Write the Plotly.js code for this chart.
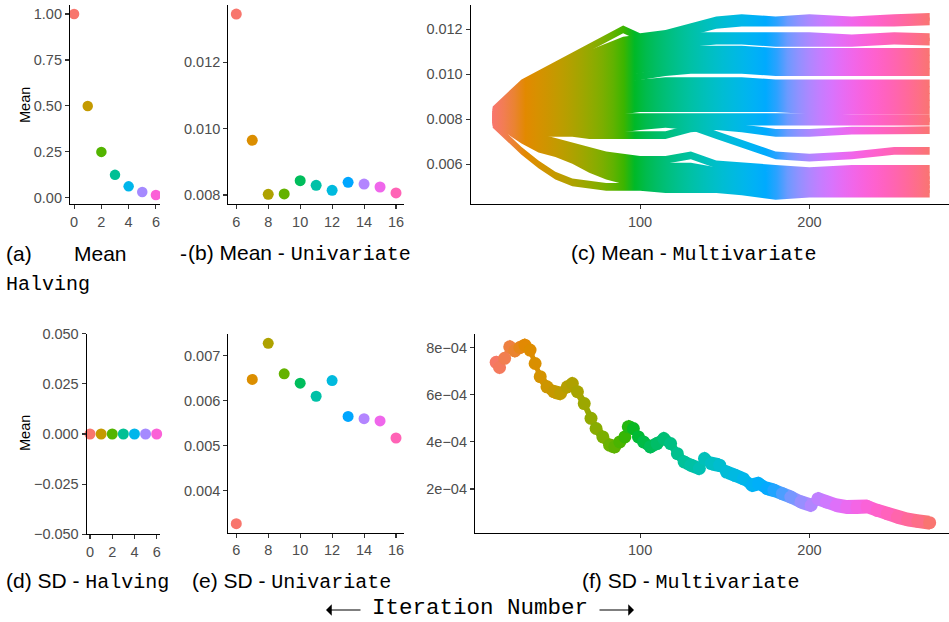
<!DOCTYPE html>
<html>
<head>
<meta charset="utf-8">
<script src="https://cdn.plot.ly/plotly-3.0.1.min.js"></script>
<style>html,body{margin:0;padding:0;background:#fff;}#chart{width:949px;height:622px;}</style>
</head>
<body>
<div id="chart"></div>
<script>
// ---------------- DATA ----------------
// (a) Mean - Halving
const halvIter = [0, 1, 2, 3, 4, 5, 6];
const halvMean = [1.0, 0.5, 0.25, 0.125, 0.0625, 0.03125, 0.015625];
// (d) SD - Halving
const halvSD = [0, 0, 0, 0, 0, 0, 0];

// (b) Mean - Univariate
const uniIter = [6, 7, 8, 9, 10, 11, 12, 13, 14, 15, 16];
const uniMean = [0.01346, 0.00965, 0.00802, 0.00803, 0.00843, 0.00829, 0.00814, 0.00838, 0.00833, 0.00824, 0.00806];
// (e) SD - Univariate
const uniSD = [0.00326, 0.006475, 0.00728, 0.00660, 0.00639, 0.00610, 0.00645, 0.00565, 0.00560, 0.00555, 0.00517];

// (c) Mean - Multivariate : running means of each dimension, sampled at these iterations
const multiIter = [13, 20, 30, 40, 50, 60, 70, 80, 90, 100, 115, 130, 145, 160, 180, 200, 225, 250, 271];
const traj01 = [0.0084, 0.0089, 0.0096, 0.0100, 0.0104, 0.0108, 0.0112, 0.0116, 0.0120, 0.01165, 0.0118, 0.0121, 0.0124, 0.0125, 0.0124, 0.0125, 0.0124, 0.0125, 0.01255];
const traj02 = [0.00835, 0.0088, 0.0094, 0.0098, 0.0102, 0.0106, 0.0109, 0.0112, 0.0115, 0.0116, 0.0117, 0.0119, 0.0122, 0.0123, 0.0123, 0.0123, 0.0123, 0.0123, 0.01235];
const traj03 = [0.0083, 0.0087, 0.0092, 0.0096, 0.0100, 0.0103, 0.0106, 0.0109, 0.0112, 0.0114, 0.0115, 0.0117, 0.0117, 0.0117, 0.0117, 0.0117, 0.0116, 0.0117, 0.01165];
const traj04 = [0.0083, 0.0086, 0.0091, 0.0094, 0.0098, 0.0101, 0.0104, 0.0107, 0.0109, 0.0111, 0.0113, 0.0114, 0.0115, 0.0115, 0.0114, 0.0114, 0.0114, 0.0115, 0.01145];
const traj05 = [0.0082, 0.0086, 0.0090, 0.0093, 0.0096, 0.0099, 0.0101, 0.0104, 0.0106, 0.0108, 0.0110, 0.0111, 0.0111, 0.0111, 0.0110, 0.0110, 0.0110, 0.0110, 0.0110];
const traj06 = [0.0082, 0.0085, 0.0089, 0.0092, 0.0094, 0.0097, 0.0099, 0.0101, 0.0103, 0.0105, 0.0107, 0.0108, 0.0108, 0.0108, 0.0107, 0.0107, 0.0107, 0.0107, 0.0107];
const traj07 = [0.0082, 0.0085, 0.0088, 0.0090, 0.0093, 0.0095, 0.0097, 0.0099, 0.0101, 0.0102, 0.0104, 0.0105, 0.0105, 0.0105, 0.0104, 0.0104, 0.0104, 0.0104, 0.0104];
const traj08 = [0.0082, 0.0084, 0.0087, 0.0089, 0.0091, 0.0093, 0.0095, 0.0096, 0.0098, 0.0099, 0.0101, 0.0102, 0.0102, 0.0102, 0.0101, 0.0101, 0.0101, 0.0101, 0.0101];
const traj09 = [0.0081, 0.0084, 0.0086, 0.0088, 0.0089, 0.0091, 0.0092, 0.0094, 0.0095, 0.0096, 0.0097, 0.0097, 0.0097, 0.0097, 0.0096, 0.0096, 0.0096, 0.0096, 0.0096];
const traj10 = [0.0081, 0.0083, 0.0085, 0.0086, 0.0087, 0.0089, 0.0090, 0.0091, 0.0092, 0.0093, 0.0094, 0.0094, 0.0094, 0.0094, 0.0093, 0.0093, 0.0093, 0.0093, 0.0093];
const traj11 = [0.0081, 0.0082, 0.0084, 0.0085, 0.0086, 0.0087, 0.0088, 0.0089, 0.0089, 0.0090, 0.0091, 0.0091, 0.0091, 0.0091, 0.0091, 0.0090, 0.0090, 0.0090, 0.0090];
const traj12 = [0.0081, 0.0082, 0.0083, 0.0083, 0.0084, 0.0085, 0.0086, 0.0086, 0.0087, 0.0088, 0.0088, 0.0088, 0.0088, 0.0088, 0.0088, 0.0087, 0.0087, 0.0087, 0.0087];
const traj13 = [0.0080, 0.0081, 0.0082, 0.0082, 0.0083, 0.0083, 0.0084, 0.0084, 0.0084, 0.0085, 0.0085, 0.0085, 0.0085, 0.0085, 0.0085, 0.0084, 0.0084, 0.0084, 0.0084];
const traj14 = [0.0080, 0.0080, 0.0080, 0.0080, 0.0080, 0.0081, 0.0081, 0.0081, 0.0081, 0.0081, 0.0081, 0.0081, 0.0081, 0.0081, 0.0081, 0.0081, 0.00805, 0.00805, 0.00805];
const traj15 = [0.0080, 0.0079, 0.0079, 0.0078, 0.0078, 0.0078, 0.0078, 0.0078, 0.0078, 0.0079, 0.0079, 0.0079, 0.0079, 0.0079, 0.0079, 0.0079, 0.0079, 0.0079, 0.0079];
const traj16 = [0.0079, 0.0077, 0.0075, 0.0074, 0.0074, 0.0074, 0.0073, 0.0073, 0.0073, 0.0073, 0.0073, 0.0076, 0.0077, 0.0076, 0.0074, 0.0074, 0.0075, 0.0075, 0.00752];
const traj17 = [0.0080, 0.0079, 0.0078, 0.0077, 0.0077, 0.0076, 0.0076, 0.0076, 0.0076, 0.0077, 0.0078, 0.0077, 0.0073, 0.0069, 0.0064, 0.0063, 0.0064, 0.0066, 0.0066];
const traj18 = [0.0080, 0.0078, 0.0075, 0.0072, 0.0070, 0.0068, 0.0066, 0.0064, 0.0063, 0.0062, 0.0062, 0.0064, 0.0060, 0.0059, 0.0058, 0.0057, 0.0058, 0.0058, 0.0058];
const traj19 = [0.0080, 0.0078, 0.0074, 0.0071, 0.0069, 0.0067, 0.0064, 0.0062, 0.0061, 0.0060, 0.0059, 0.0059, 0.0057, 0.0056, 0.0055, 0.0055, 0.0055, 0.0055, 0.0055];
const traj20 = [0.0080, 0.0078, 0.0074, 0.0070, 0.0068, 0.0066, 0.0063, 0.0060, 0.0058, 0.0057, 0.0056, 0.0056, 0.0055, 0.0054, 0.0053, 0.0053, 0.0053, 0.0053, 0.0053];
const traj21 = [0.0079, 0.0077, 0.0072, 0.0069, 0.0066, 0.0064, 0.0061, 0.0058, 0.0056, 0.0054, 0.0054, 0.0053, 0.0052, 0.0052, 0.0051, 0.0051, 0.0051, 0.0051, 0.0051];
const traj22 = [0.0079, 0.0076, 0.0071, 0.0067, 0.0065, 0.0062, 0.0058, 0.0055, 0.0053, 0.0052, 0.0051, 0.0051, 0.0050, 0.0050, 0.0049, 0.0049, 0.0049, 0.0049, 0.0049];
const traj23 = [0.0078, 0.0073, 0.0066, 0.0060, 0.0055, 0.0052, 0.0051, 0.0050, 0.0050, 0.0050, 0.0049, 0.0049, 0.0049, 0.0048, 0.0046, 0.0047, 0.0047, 0.0047, 0.0047];
const multiTrajs = [traj01, traj02, traj03, traj04, traj05, traj06, traj07, traj08, traj09, traj10, traj11, traj12,
                    traj13, traj14, traj15, traj16, traj17, traj18, traj19, traj20, traj21, traj22, traj23];

// (f) SD - Multivariate
const sdIter = [15, 17, 20, 23, 26, 29, 32, 35, 38, 41, 45, 49, 53, 57, 60, 63, 67, 71, 74, 78,
                82, 85, 88, 91, 93, 96, 99, 102, 106, 110, 114, 118, 122, 126, 130, 135, 138, 142, 147, 151,
                156, 161, 166, 170, 175, 179, 184, 189, 195, 201, 205, 210, 216, 222, 228, 234, 240, 246, 252, 258,
                264, 271];
const sdMulti = [7.38e-4, 7.16e-4, 7.55e-4, 8.04e-4, 7.87e-4, 8.01e-4, 8.11e-4, 7.90e-4, 7.33e-4, 6.77e-4,
                 6.34e-4, 6.13e-4, 6.06e-4, 6.34e-4, 6.48e-4, 6.13e-4, 5.63e-4, 5.00e-4, 4.57e-4, 4.21e-4,
                 3.86e-4, 3.79e-4, 4.00e-4, 4.21e-4, 4.64e-4, 4.57e-4, 4.21e-4, 4.00e-4, 3.79e-4, 3.93e-4,
                 4.14e-4, 3.93e-4, 3.50e-4, 3.15e-4, 3.01e-4, 2.87e-4, 3.29e-4, 3.08e-4, 3.01e-4, 2.72e-4,
                 2.58e-4, 2.44e-4, 2.16e-4, 2.23e-4, 2.02e-4, 1.95e-4, 1.80e-4, 1.66e-4, 1.45e-4, 1.31e-4,
                 1.59e-4, 1.45e-4, 1.31e-4, 1.24e-4, 1.24e-4, 1.26e-4, 1.09e-4, 0.95e-4, 0.81e-4, 0.70e-4,
                 0.63e-4, 0.57e-4];

const sdTickVals = [2e-4, 4e-4, 6e-4, 8e-4];
const sdTickText = ['2e\u221204', '4e\u221204', '6e\u221204', '8e\u221204'];

// ---------------- STYLE HELPERS ----------------
function hcl(h, c, l) {
  const hr = h * Math.PI / 180;
  const U = c * Math.cos(hr), V = c * Math.sin(hr);
  const Xn = 95.047, Yn = 100, Zn = 108.883;
  const den = Xn + 15 * Yn + 3 * Zn;
  const un = 4 * Xn / den, vn = 9 * Yn / den;
  const Y = Yn * (l > 8 ? Math.pow((l + 16) / 116, 3) : l / 903.3);
  const u = U / (13 * l) + un, v = V / (13 * l) + vn;
  const X = 9 * Y * u / (4 * v);
  const Z = Y * (12 - 3 * u - 20 * v) / (4 * v);
  const lin = [
    (3.240479 * X - 1.537150 * Y - 0.498535 * Z) / 100,
    (-0.969256 * X + 1.875992 * Y + 0.041556 * Z) / 100,
    (0.055648 * X - 0.204043 * Y + 1.057311 * Z) / 100];
  const g = lin.map(t => {
    let s = t <= 0.0031308 ? 12.92 * t : 1.055 * Math.pow(t, 1 / 2.4) - 0.055;
    s = Math.max(0, Math.min(1, s));
    return Math.round(s * 255);
  });
  return '#' + g.map(n => n.toString(16).padStart(2, '0')).join('');
}
function huePal(n) {
  const out = [];
  for (let i = 0; i < n; i++) out.push(hcl(15 + 360 * i / n, 100, 65));
  return out;
}
const hueScale = [];
for (let k = 0; k <= 40; k++) hueScale.push([k / 40, hcl(15 + 358.6 * k / 40, 100, 65)]);

const W = 949, H = 622;
const px = v => v / W;
const py = v => 1 - v / H;

const tickFont = {family: 'Liberation Sans, Arial, sans-serif', size: 14.5, color: '#4D4D4D'};
function ax(domain, range, extra) {
  return Object.assign({
    domain: domain, range: range, showgrid: false, zeroline: false,
    showline: true, linecolor: '#000000', linewidth: 1.1,
    ticks: 'outside', ticklen: 4, tickwidth: 1.1, tickcolor: '#333333',
    tickfont: tickFont, fixedrange: true
  }, extra || {});
}

// ---------------- TRACES ----------------
const traces = [];
traces.push({type: 'scatter', mode: 'markers', x: halvIter, y: halvMean, xaxis: 'x', yaxis: 'y',
  marker: {size: 10.5, color: huePal(7)}, hoverinfo: 'skip'});
traces.push({type: 'scatter', mode: 'markers', x: uniIter, y: uniMean, xaxis: 'x2', yaxis: 'y2',
  marker: {size: 11, color: huePal(11)}, hoverinfo: 'skip'});

const cYRange = [0.004236, 0.01308];
const cHalf = 3.9 * (cYRange[1] - cYRange[0]) / 199;
multiTrajs.forEach(tr => {
  const up = tr.map(v => v + cHalf);
  const lo = tr.map(v => v - cHalf).reverse();
  traces.push({type: 'scatter', mode: 'lines', xaxis: 'x3', yaxis: 'y3',
    x: multiIter.concat(multiIter.slice().reverse()), y: up.concat(lo),
    fill: 'toself', line: {width: 0, color: 'rgba(0,0,0,0)'},
    fillgradient: {type: 'horizontal', colorscale: hueScale, start: multiIter[0], stop: multiIter[multiIter.length - 1]},
    hoverinfo: 'skip'});
});

traces.push({type: 'scatter', mode: 'markers', x: halvIter, y: halvSD, xaxis: 'x4', yaxis: 'y4',
  marker: {size: 11, color: huePal(7)}, hoverinfo: 'skip', cliponaxis: false});
traces.push({type: 'scatter', mode: 'markers', x: uniIter, y: uniSD, xaxis: 'x5', yaxis: 'y5',
  marker: {size: 11, color: huePal(11)}, hoverinfo: 'skip'});

const fYRange = [0.0000144, 0.000857];
const fHalf = 7 * (fYRange[1] - fYRange[0]) / 198.4;
traces.push({type: 'scatter', mode: 'lines', xaxis: 'x6', yaxis: 'y6',
  x: sdIter.concat(sdIter.slice().reverse()),
  y: sdMulti.map(v => v + fHalf).concat(sdMulti.map(v => v - fHalf).reverse()),
  fill: 'toself', line: {width: 0, color: 'rgba(0,0,0,0)'},
  fillgradient: {type: 'horizontal', colorscale: hueScale, start: multiIter[0], stop: multiIter[multiIter.length - 1]},
  hoverinfo: 'skip'});
traces.push({type: 'scatter', mode: 'markers', x: sdIter, y: sdMulti, xaxis: 'x6', yaxis: 'y6',
  marker: {size: 13, color: sdIter, colorscale: hueScale, cmin: multiIter[0], cmax: multiIter[multiIter.length - 1], showscale: false},
  hoverinfo: 'skip'});

// ---------------- LAYOUT ----------------
const sans = 'Liberation Sans, Arial, sans-serif';
const mono = 'Liberation Mono';
function cap(text, xl, yc, size) {
  return {text: text, xref: 'paper', yref: 'paper', x: px(xl), y: py(yc), xanchor: 'left', yanchor: 'middle',
    showarrow: false, font: {family: sans, size: size || 21, color: '#000000'}};
}
const m = s => '<span style="font-family:' + mono + ';font-size:20px">' + s + '</span>';
function longArrow(tipX, tail) {
  return {text: '', xref: 'paper', yref: 'paper', x: px(tipX), y: py(610), ax: tail, ay: 0,
    showarrow: true, arrowhead: 1, arrowsize: 1.6, arrowwidth: 1.2, arrowcolor: '#000000'};
}

const layout = {
  width: W, height: H, margin: {l: 0, r: 0, t: 0, b: 0},
  paper_bgcolor: '#ffffff', plot_bgcolor: '#ffffff', showlegend: false,
  xaxis: ax([px(70), px(160)], [-0.3, 6.3], {anchor: 'y', tickvals: [0, 2, 4, 6]}),
  yaxis: ax([py(204), py(5)], [-0.0336, 1.0492], {anchor: 'x', tickvals: [0, 0.25, 0.5, 0.75, 1], tickformat: '.2f'}),
  xaxis2: ax([px(228.3), px(404)], [5.5, 16.5], {anchor: 'y2', tickvals: [6, 8, 10, 12, 14, 16]}),
  yaxis2: ax([py(204), py(5)], [0.007727, 0.013733], {anchor: 'x2', tickvals: [0.008, 0.010, 0.012], tickformat: '.3f'}),
  xaxis3: ax([px(470.7), 1], [0, 282.4], {anchor: 'y3', tickvals: [100, 200]}),
  yaxis3: ax([py(204), py(5)], cYRange, {anchor: 'x3', tickvals: [0.006, 0.008, 0.010, 0.012], tickformat: '.3f'}),
  xaxis4: ax([px(86.7), px(160)], [-0.3, 6.3], {anchor: 'y4', tickvals: [0, 2, 4, 6]}),
  yaxis4: ax([py(534.3), py(333.7)], [-0.05, 0.05], {anchor: 'x4', tickvals: [-0.05, -0.025, 0, 0.025, 0.05], tickformat: '.3f'}),
  xaxis5: ax([px(228.3), px(404)], [5.5, 16.5], {anchor: 'y5', tickvals: [6, 8, 10, 12, 14, 16]}),
  yaxis5: ax([py(532.7), py(334.3)], [0.00306, 0.00748], {anchor: 'x5', tickvals: [0.004, 0.005, 0.006, 0.007], tickformat: '.3f'}),
  xaxis6: ax([px(475), 1], [2.5, 282.4], {anchor: 'y6', tickvals: [100, 200]}),
  yaxis6: ax([py(532.7), py(334.3)], fYRange, {anchor: 'x6', tickvals: sdTickVals, ticktext: sdTickText}),
  annotations: [
    {text: 'Mean', xref: 'paper', yref: 'paper', x: px(25), y: py(105), xanchor: 'center', yanchor: 'middle',
     textangle: -90, showarrow: false, font: {family: sans, size: 14.5, color: '#000000'}},
    {text: 'Mean', xref: 'paper', yref: 'paper', x: px(25), y: py(433), xanchor: 'center', yanchor: 'middle',
     textangle: -90, showarrow: false, font: {family: sans, size: 14.5, color: '#000000'}},
    cap('(a)', 4, 253), cap('Mean', 72, 253), cap('-', 178, 253), cap(m('Halving'), 4, 284),
    cap('(b) Mean - ' + m('Univariate'), 186, 253),
    cap('(c) Mean - ' + m('Multivariate'), 569, 253),
    cap('(d) SD - ' + m('Halving'), 4, 581),
    cap('(e) SD - ' + m('Univariate'), 190, 581),
    cap('(f) SD - ' + m('Multivariate'), 580, 581),
    {text: 'Iteration Number', xref: 'paper', yref: 'paper', x: px(480), y: py(608), xanchor: 'center', yanchor: 'middle',
     showarrow: false, font: {family: mono, size: 22.5, color: '#000000'}},
    longArrow(326, 36), longArrow(634, -36)
  ]
};

Plotly.newPlot('chart', traces, layout, {staticPlot: true, displayModeBar: false});
</script>
</body>
</html>
